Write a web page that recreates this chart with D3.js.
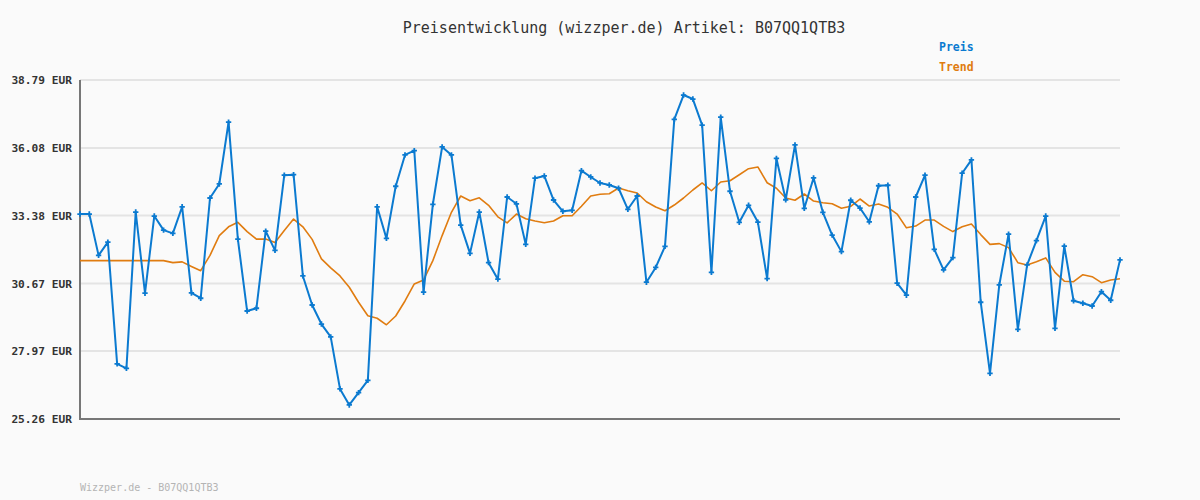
<!DOCTYPE html>
<html><head><meta charset="utf-8">
<script src="https://cdn.jsdelivr.net/npm/d3@7"></script>
<style>
html,body{margin:0;padding:0;background:#fafafa;}
svg{display:block;}
</style></head>
<body>
<svg id="chart" width="1200" height="500"></svg>
<script>
const titleText = "Preisentwicklung (wizzper.de) Artikel: B07QQ1QTB3";
const footerText = "Wizzper.de - B07QQ1QTB3";
const seriesNames = ["Preis", "Trend"];
const yTicks = [25.26, 27.97, 30.67, 33.38, 36.08, 38.79];
const yTickLabels = ["25.26 EUR", "27.97 EUR", "30.67 EUR", "33.38 EUR", "36.08 EUR", "38.79 EUR"];

const preis = [
  33.44,33.44,31.79,32.32,27.46,27.28,33.52,30.28,33.36,32.80,32.67,33.73,30.29,30.08,34.08,34.64,37.11,32.44,29.57,29.68,32.76,31.99,34.99,35.01,
  30.97,29.81,29.05,28.54,26.46,25.82,26.31,26.80,33.73,32.47,34.55,35.80,35.97,30.32,33.83,36.12,35.80,33.00,31.87,33.52,31.50,30.84,34.12,33.85,
  32.23,34.87,34.96,34.00,33.55,33.59,35.17,34.92,34.68,34.60,34.47,33.63,34.16,30.72,31.31,32.15,37.22,38.19,38.03,36.99,31.11,37.31,34.35,33.11,
  33.79,33.12,30.86,35.66,34.01,36.20,33.67,34.88,33.51,32.60,31.94,33.99,33.68,33.13,34.57,34.59,30.68,30.20,34.12,34.99,32.03,31.21,31.70,
  35.07,35.60,29.92,27.08,30.61,32.64,28.84,31.41,32.38,33.36,28.88,32.16,29.98,29.88,29.77,30.34,30.00,31.61
];
const trend = [
  31.58,31.58,31.58,31.58,31.58,31.58,31.58,31.58,31.58,31.58,31.50,31.53,31.35,31.18,31.79,32.58,32.93,33.11,32.74,32.44,32.44,32.30,32.78,33.24,
  32.93,32.43,31.65,31.29,30.97,30.52,29.92,29.38,29.28,29.02,29.37,29.97,30.65,30.81,31.58,32.58,33.51,34.16,33.97,34.09,33.79,33.33,33.09,33.44,
  33.25,33.16,33.09,33.16,33.37,33.37,33.75,34.16,34.23,34.25,34.48,34.37,34.28,33.93,33.72,33.57,33.80,34.08,34.40,34.68,34.37,34.72,34.77,35.01,
  35.25,35.32,34.69,34.47,34.08,33.99,34.24,33.96,33.89,33.85,33.67,33.75,34.04,33.76,33.84,33.71,33.44,32.89,32.96,33.20,33.20,32.95,32.74,
  32.93,33.04,32.62,32.23,32.26,32.10,31.50,31.41,31.54,31.69,31.11,30.76,30.74,31.02,30.94,30.70,30.81,30.86
];

(function () {
const W = 1200, H = 500;
const mL = 80, mR = 1120, mT = 80, mB = 419;
const blue = "#0b7ad0", orange = "#e07c10";
const mono = "'DejaVu Sans Mono', 'Liberation Mono', monospace";

const svg = d3.select("#chart");
svg.append("rect").attr("width", W).attr("height", H).attr("fill", "#fafafa");

const x = d3.scaleLinear().domain([0, preis.length - 1]).range([mL, mR]);
const y = d3.scaleLinear().domain([yTicks[0], yTicks[yTicks.length - 1]]).range([mB, mT]);

// grid
svg.append("g").selectAll("line").data(yTicks).join("line")
  .attr("x1", mL).attr("x2", mR)
  .attr("y1", d => y(d)).attr("y2", d => y(d))
  .attr("stroke", "#e4e4e4").attr("stroke-width", 2);

// y axis labels
const yAxis = d3.axisLeft(y).tickValues(yTicks).tickSize(0).tickPadding(8)
  .tickFormat((d, i) => yTickLabels[i]);
const gy = svg.append("g").attr("transform", `translate(${mL},0)`).call(yAxis);
gy.select(".domain").remove();
gy.selectAll("text").attr("font-family", mono).attr("font-size", 11.2)
  .attr("font-weight", "bold").attr("fill", "#333");

// axis lines
svg.append("line").attr("x1", mL).attr("x2", mL).attr("y1", mT).attr("y2", mB + 1)
  .attr("stroke", "#777").attr("stroke-width", 2);
svg.append("line").attr("x1", mL - 1).attr("x2", mR).attr("y1", mB).attr("y2", mB)
  .attr("stroke", "#777").attr("stroke-width", 2);

// trend
const line = d3.line().x((d, i) => x(i)).y(d => y(d));
svg.append("path").datum(trend).attr("d", line)
  .attr("fill", "none").attr("stroke", orange).attr("stroke-width", 1.6).attr("stroke-linejoin", "round");

// preis
svg.append("path").datum(preis).attr("d", line)
  .attr("fill", "none").attr("stroke", blue).attr("stroke-width", 2).attr("stroke-linejoin", "round");

const sym = d3.symbol().type(d3.symbolCross).size(16);
svg.append("g").selectAll("path").data(preis).join("path")
  .attr("transform", (d, i) => `translate(${x(i)},${y(d)})`)
  .attr("d", sym).attr("fill", blue);

// title
svg.append("text").attr("x", 624).attr("y", 33).attr("text-anchor", "middle")
  .attr("font-family", mono).attr("font-size", 15).attr("fill", "#333").text(titleText);

// legend
const legendColors = [blue, orange];
svg.append("g").selectAll("text").data(seriesNames).join("text")
  .attr("x", 939).attr("y", (d, i) => 51 + i * 20)
  .attr("font-family", mono).attr("font-size", 11.5).attr("font-weight", "bold")
  .attr("fill", (d, i) => legendColors[i]).text(d => d);

// footer
svg.append("text").attr("x", 80).attr("y", 491)
  .attr("font-family", mono).attr("font-size", 10).attr("fill", "#b4b4b4").text(footerText);
})();
</script>
</body></html>
